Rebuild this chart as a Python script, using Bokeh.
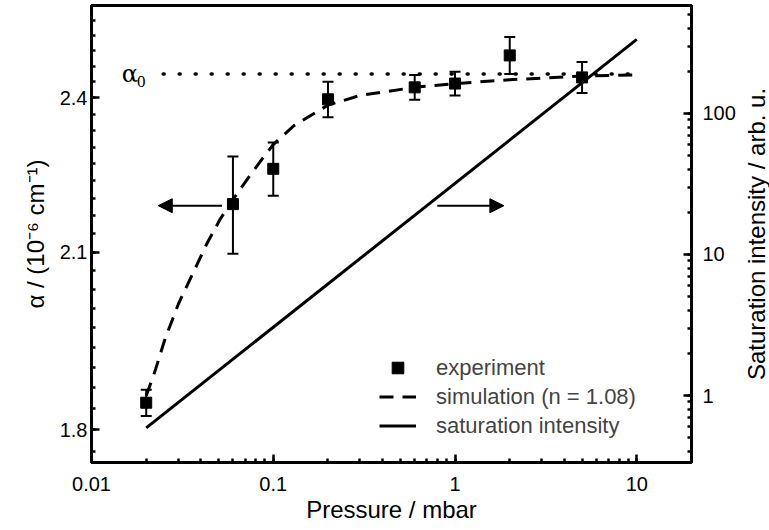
import math
from bokeh.plotting import figure
from bokeh.models import (Range1d, LogScale, LogAxis, FixedTicker, Whisker, TeeHead,
                          ColumnDataSource, Legend, LegendItem, Arrow, NormalHead, Label)
from bokeh.embed import file_html
from bokeh.resources import INLINE

# ---------------- data ----------------
exp_p = [0.02, 0.06, 0.1, 0.2, 0.6, 1, 2, 5]
exp_alpha = [1.843, 2.189, 2.257, 2.397, 2.422, 2.430, 2.490, 2.443]
exp_err = [0.021, 0.092, 0.052, 0.037, 0.026, 0.025, 0.040, 0.033]

sim_p = [0.02, 0.0224, 0.0254, 0.0301, 0.0364, 0.0431, 0.0511, 0.0596, 0.0717,
         0.0885, 0.1, 0.13, 0.2, 0.3, 0.6, 1, 2, 5, 10]
sim_alpha = [1.854, 1.895, 1.948, 2.008, 2.064, 2.115, 2.161, 2.196, 2.236,
             2.280, 2.305, 2.343, 2.385, 2.405, 2.422, 2.430, 2.438, 2.446, 2.448]

sat_p = [0.02, 10]
sat_I = [0.59, 335]

alpha0 = 2.45
alpha0_p = [0.0248, 10]

arrow_left = [0.0522, 0.0233]   # x start, x end (left axis arrow)
arrow_right = [0.798, 1.857]
arrow_alpha = 2.186

x_major = [0.01, 0.1, 1, 10]
x_labels = {0.01: "0.01", 0.1: "0.1", 1: "1", 10: "10"}
y_major = [1.8, 2.1, 2.4]
y_labels = {1.8: "1.8", 2.1: "2.1", 2.4: "2.4"}
r_major = [1, 10, 100]
r_labels = {1: "1", 10: "10", 100: "100"}

x_minor = [m * d for d in [0.01, 0.1, 1, 10] for m in range(1, 10) if m * d <= 20]
y_minor = [round(1.5 + k / 30, 4) for k in range(0, 40)]
r_minor = [m * d for d in [0.1, 1, 10, 100] for m in range(1, 10)]

right_title = "Saturation intensity / arb. u."

FONT = "Liberation Sans"

p = figure(width=769, height=530, x_axis_type="log", y_axis_type="log",
           x_range=Range1d(0.01, 20), y_range=Range1d(1.75, 2.6),
           output_backend="svg", toolbar_location=None,
           min_border_left=91, min_border_right=78, min_border_top=5, min_border_bottom=68)
p.extra_y_ranges = {"sat": Range1d(0.335, 583)}
p.extra_y_scales = {"sat": LogScale()}

p.background_fill_color = "white"
p.border_fill_color = "white"
p.outline_line_color = "black"
p.outline_line_width = 3
p.xgrid.visible = False
p.ygrid.visible = False


def style_axis(ax, major, labels, minor, standoff):
    ax.ticker = FixedTicker(ticks=major, minor_ticks=minor)
    ax.major_label_overrides = labels
    ax.axis_line_width = 3
    ax.major_tick_in = 8
    ax.major_tick_out = 0
    ax.minor_tick_in = 4
    ax.minor_tick_out = 0
    ax.major_tick_line_width = 2.5
    ax.minor_tick_line_width = 2.5
    ax.major_label_text_font = FONT
    ax.major_label_text_font_size = "20px"
    ax.major_label_text_color = "black"
    ax.major_label_standoff = standoff
    ax.axis_label_text_font = FONT
    ax.axis_label_text_font_size = "24px"
    ax.axis_label_text_font_style = "normal"
    ax.axis_label_text_color = "black"


xa = p.xaxis[0]
style_axis(xa, x_major, x_labels, x_minor, 14)
xa.axis_label = "Pressure / mbar"
xa.axis_label_standoff = 2

ya = p.yaxis[0]
style_axis(ya, y_major, y_labels, y_minor, 4)
ya.axis_label = "α / (10⁻⁶ cm⁻¹)"
ya.axis_label_standoff = 8

ra = LogAxis(y_range_name="sat")
style_axis(ra, r_major, r_labels, r_minor, 11)
p.add_layout(ra, "right")

# right axis title, reading bottom to top, in its own side panel
p.add_layout(Label(x=18, y=228.5, x_units="screen", y_units="screen", text=right_title,
                   angle=math.pi / 2, text_align="center", text_baseline="middle",
                   text_font=FONT, text_font_size="24px", text_color="black"), "right")

# alpha0 dotted line
p.line(alpha0_p, [alpha0, alpha0], line_color="black", line_width=3.5,
       line_dash="1 15", line_cap="round")
p.add_layout(Label(x=0.01467, y=alpha0, text="α", text_font="DejaVu Serif",
                   text_font_size="24px", text_baseline="middle", text_align="left",
                   text_color="black"))
p.add_layout(Label(x=0.0178, y=alpha0, y_offset=-7, text="0", text_font="Liberation Serif",
                   text_font_size="17px", text_baseline="middle", text_align="left",
                   text_color="black"))

# simulation
sim_r = p.line(sim_p, sim_alpha, line_color="black", line_width=3, line_dash="14 9")

# saturation intensity
sat_r = p.line(sat_p, sat_I, y_range_name="sat", line_color="black", line_width=3)

# experiment
src = ColumnDataSource(dict(p=exp_p, a=exp_alpha,
                            lo=[a - e for a, e in zip(exp_alpha, exp_err)],
                            hi=[a + e for a, e in zip(exp_alpha, exp_err)]))
p.add_layout(Whisker(source=src, base="p", lower="lo", upper="hi", dimension="height",
                     line_color="black", line_width=2,
                     upper_head=TeeHead(size=11, line_width=2, line_color="black"),
                     lower_head=TeeHead(size=11, line_width=2, line_color="black")))
exp_r = p.scatter("p", "a", source=src, marker="square", size=11,
                  fill_color="black", line_color="black")

# arrows
p.add_layout(Arrow(x_start=arrow_left[0], y_start=arrow_alpha, x_end=arrow_left[1], y_end=arrow_alpha,
                   line_width=2, line_color="black",
                   end=NormalHead(size=14, fill_color="black", line_color="black")))
p.add_layout(Arrow(x_start=arrow_right[0], y_start=arrow_alpha, x_end=arrow_right[1], y_end=arrow_alpha,
                   line_width=2, line_color="black",
                   end=NormalHead(size=14, fill_color="black", line_color="black")))

legend = Legend(items=[LegendItem(label="experiment", renderers=[exp_r]),
                       LegendItem(label="simulation (n = 1.08)", renderers=[sim_r]),
                       LegendItem(label="saturation intensity", renderers=[sat_r])],
                location=(288, 22), padding=0, margin=0, spacing=0,
                glyph_width=37, glyph_height=29, label_standoff=20,
                label_text_font=FONT, label_text_font_size="22px",
                border_line_alpha=0, background_fill_alpha=0)
p.add_layout(legend)

open("out.html", "w").write(file_html(p, INLINE))
